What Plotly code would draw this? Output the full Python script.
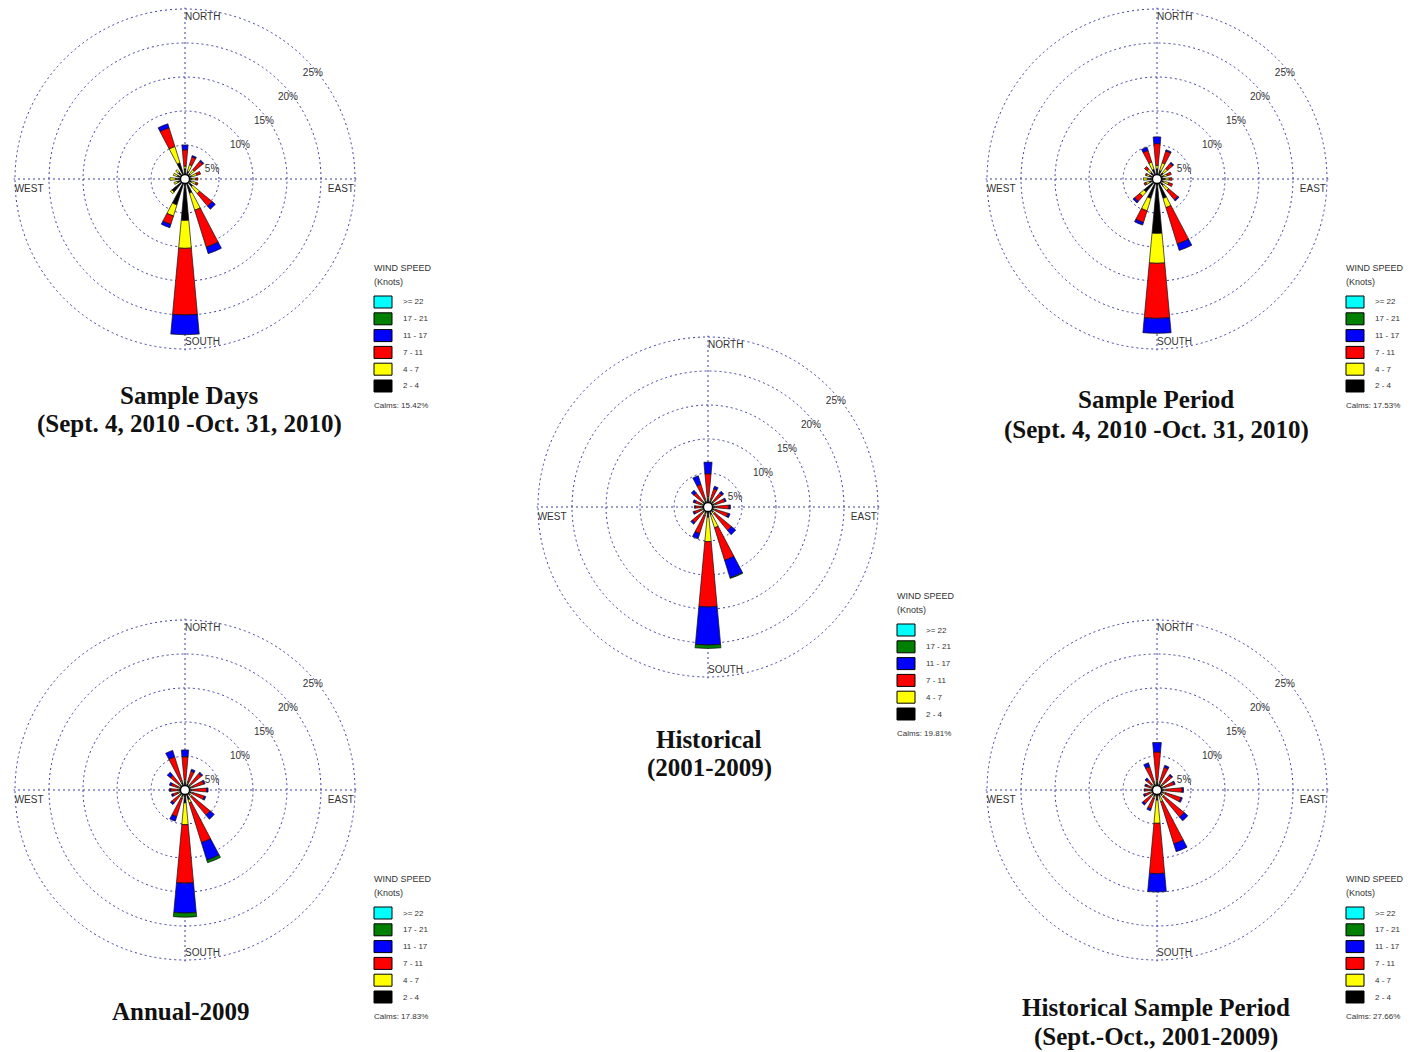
import plotly.graph_objects as go

# ---- data -------------------------------------------------------------
# Sixteen compass sectors, clockwise from north (degrees)
directions = [0.0, 22.5, 45.0, 67.5, 90.0, 112.5, 135.0, 157.5,
              180.0, 202.5, 225.0, 247.5, 270.0, 292.5, 315.0, 337.5]

speed_labels = ["2 - 4", "4 - 7", "7 - 11", "11 - 17", "17 - 21", ">= 22"]
speed_colors = ["#000000", "#ffff00", "#ff0000", "#0000ff", "#008000", "#00ffff"]

ring_values = [5, 10, 15, 20, 25]
ring_labels = ["5%", "10%", "15%", "20%", "25%"]

# Frequency (% of hours) by speed class, N..NNW
# Sample Days (Sept. 4, 2010 - Oct. 31, 2010)
sd_2_4   = [1.5, 1.2, 1.0, 1.0, 1.0, 1.0, 1.5, 2.2, 6.1, 4.0, 2.5, 1.2, 1.4, 1.2, 1.3, 2.5]
sd_4_7   = [0.4, 1.0, 0.8, 0.8, 0.6, 0.7, 1.3, 2.6, 4.1, 1.7, 0.3, 0.5, 0.8, 0.6, 0.5, 2.5]
sd_7_11  = [2.4, 1.2, 1.6, 0.6, 0.3, 0.3, 2.4, 5.7, 9.8, 1.3, 0.0, 0.0, 0.0, 0.0, 0.0, 2.9]
sd_11_17 = [0.7, 0.2, 0.2, 0.0, 0.0, 0.0, 0.6, 1.0, 2.9, 0.5, 0.0, 0.0, 0.0, 0.0, 0.0, 0.6]
sd_17_21 = [0.0, 0.0, 0.0, 0.0, 0.0, 0.0, 0.0, 0.0, 0.0, 0.0, 0.0, 0.0, 0.0, 0.0, 0.0, 0.0]
sd_22    = [0.0, 0.0, 0.0, 0.0, 0.0, 0.0, 0.0, 0.0, 0.0, 0.0, 0.0, 0.0, 0.0, 0.0, 0.0, 0.0]
sd_calms = "15.42%"

# Sample Period (Sept. 4, 2010 - Oct. 31, 2010)
sp_2_4   = [1.5, 1.3, 1.2, 1.0, 1.2, 1.0, 1.3, 3.0, 8.0, 3.0, 2.5, 1.2, 1.4, 1.2, 1.3, 1.5]
sp_4_7   = [0.5, 1.2, 0.8, 0.6, 0.6, 0.8, 0.9, 1.4, 4.4, 1.9, 0.8, 0.5, 0.6, 0.4, 0.6, 1.1]
sp_7_11  = [3.2, 1.8, 1.0, 0.6, 0.4, 0.6, 1.8, 5.6, 8.1, 1.8, 1.0, 0.3, 0.0, 0.2, 0.5, 1.8]
sp_11_17 = [1.0, 0.2, 0.2, 0.0, 0.0, 0.0, 0.2, 1.0, 2.2, 0.4, 0.3, 0.0, 0.0, 0.0, 0.0, 0.5]
sp_17_21 = [0.0, 0.0, 0.0, 0.0, 0.0, 0.0, 0.0, 0.0, 0.0, 0.0, 0.0, 0.0, 0.0, 0.0, 0.0, 0.0]
sp_22    = [0.0, 0.0, 0.0, 0.0, 0.0, 0.0, 0.0, 0.0, 0.0, 0.0, 0.0, 0.0, 0.0, 0.0, 0.0, 0.0]
sp_calms = "17.53%"

# Historical (2001-2009)
hi_2_4   = [1.3, 1.0, 1.0, 1.0, 1.0, 1.0, 1.0, 1.2, 1.5, 1.0, 1.0, 0.9, 0.9, 0.9, 1.0, 1.0]
hi_4_7   = [0.2, 0.2, 0.2, 0.2, 0.2, 0.2, 0.3, 2.0, 3.6, 0.3, 0.2, 0.2, 0.2, 0.2, 0.2, 0.2]
hi_7_11  = [3.4, 1.6, 1.5, 1.4, 1.9, 1.9, 3.2, 5.0, 9.6, 2.8, 1.8, 1.0, 0.8, 0.9, 1.5, 2.3]
hi_11_17 = [1.7, 0.4, 0.3, 0.2, 0.2, 0.3, 0.8, 2.7, 5.6, 0.8, 0.3, 0.2, 0.1, 0.3, 0.5, 1.3]
hi_17_21 = [0.0, 0.0, 0.0, 0.0, 0.0, 0.0, 0.0, 0.1, 0.5, 0.0, 0.0, 0.0, 0.0, 0.0, 0.0, 0.0]
hi_22    = [0.0, 0.0, 0.0, 0.0, 0.0, 0.0, 0.0, 0.0, 0.0, 0.0, 0.0, 0.0, 0.0, 0.0, 0.0, 0.0]
hi_calms = "19.81%"

# Annual-2009
an_2_4   = [1.3, 1.0, 1.0, 1.0, 1.0, 1.0, 1.0, 1.5, 1.9, 1.0, 1.0, 0.9, 0.9, 0.9, 1.0, 1.2]
an_4_7   = [0.2, 0.2, 0.2, 0.2, 0.2, 0.2, 0.3, 0.5, 3.2, 0.3, 0.2, 0.2, 0.2, 0.2, 0.2, 0.2]
an_7_11  = [3.4, 1.7, 2.0, 1.7, 2.0, 1.8, 3.5, 6.1, 8.6, 2.8, 1.3, 0.8, 1.0, 1.0, 1.6, 3.7]
an_11_17 = [1.0, 0.3, 0.2, 0.2, 0.2, 0.2, 0.8, 2.7, 4.4, 0.7, 0.3, 0.2, 0.2, 0.3, 0.6, 1.0]
an_17_21 = [0.0, 0.0, 0.0, 0.0, 0.0, 0.0, 0.0, 0.4, 0.6, 0.0, 0.0, 0.0, 0.0, 0.0, 0.0, 0.0]
an_22    = [0.0, 0.0, 0.0, 0.0, 0.0, 0.0, 0.0, 0.0, 0.0, 0.0, 0.0, 0.0, 0.0, 0.0, 0.0, 0.0]
an_calms = "17.83%"

# Historical Sample Period (Sept.-Oct., 2001-2009)
hs_2_4   = [1.3, 1.0, 1.0, 1.0, 1.0, 1.0, 1.0, 1.0, 1.5, 1.0, 1.0, 0.9, 0.9, 0.8, 0.9, 1.0]
hs_4_7   = [0.2, 0.2, 0.2, 0.2, 0.3, 0.3, 0.3, 0.8, 3.4, 0.3, 0.2, 0.2, 0.2, 0.2, 0.2, 0.2]
hs_7_11  = [4.1, 2.3, 1.6, 1.4, 2.4, 2.4, 3.9, 6.5, 7.4, 1.6, 1.4, 0.8, 0.7, 0.7, 0.9, 2.4]
hs_11_17 = [1.4, 0.3, 0.2, 0.2, 0.2, 0.2, 0.7, 1.2, 2.7, 0.3, 0.3, 0.2, 0.1, 0.2, 0.3, 0.6]
hs_17_21 = [0.0, 0.0, 0.0, 0.0, 0.0, 0.0, 0.0, 0.0, 0.0, 0.0, 0.0, 0.0, 0.0, 0.0, 0.0, 0.0]
hs_22    = [0.0, 0.0, 0.0, 0.0, 0.0, 0.0, 0.0, 0.0, 0.0, 0.0, 0.0, 0.0, 0.0, 0.0, 0.0, 0.0]
hs_calms = "27.66%"

# ---- layout constants ---------------------------------------------------
W, H = 1412, 1052
PX_PER_PCT = 6.8          # radial scale in pixels per percent
R_MAX = 25.2              # radial range upper limit (%)
GRID = "#3c3ca2"
LABEL_FONT = dict(family="Liberation Sans, Arial, sans-serif", size=10, color="#333333")
TITLE_FONT = dict(family="Liberation Serif, Times New Roman, serif", size=25, color="#111111")

roses = [
    dict(center=(185, 179), classes=[sd_2_4, sd_4_7, sd_7_11, sd_11_17, sd_17_21, sd_22],
         calms=sd_calms, title=[("Sample Days", 395), ("(Sept. 4, 2010 -Oct. 31, 2010)", 424)],
         title_x=189),
    dict(center=(1157, 179), classes=[sp_2_4, sp_4_7, sp_7_11, sp_11_17, sp_17_21, sp_22],
         calms=sp_calms, title=[("Sample Period", 400), ("(Sept. 4, 2010 -Oct. 31, 2010)", 430)],
         title_x=1156),
    dict(center=(708, 507), classes=[hi_2_4, hi_4_7, hi_7_11, hi_11_17, hi_17_21, hi_22],
         calms=hi_calms, title=[("Historical", 739), ("(2001-2009)", 768)],
         title_x=709),
    dict(center=(185, 790), classes=[an_2_4, an_4_7, an_7_11, an_11_17, an_17_21, an_22],
         calms=an_calms, title=[("Annual-2009", 1011)],
         title_x=181),
    dict(center=(1157, 790), classes=[hs_2_4, hs_4_7, hs_7_11, hs_11_17, hs_17_21, hs_22],
         calms=hs_calms, title=[("Historical Sample Period", 1007), ("(Sept.-Oct., 2001-2009)", 1037)],
         title_x=1156),
]

fig = go.Figure()
annotations = []
shapes = []

# ring label placement (r in %, compass angle in degrees)
ring_label_r = [4.2, 9.45, 14.35, 19.3, 24.4]
ring_label_theta = [71.6, 58.8, 54.0, 51.7, 50.4]

for i, rose in enumerate(roses):
    key = "polar" if i == 0 else f"polar{i + 1}"
    cx, cy = rose["center"]
    rad_px = R_MAX * PX_PER_PCT

    # stacked petals
    for vals, color, lab in zip(rose["classes"], speed_colors, speed_labels):
        fig.add_trace(go.Barpolar(
            r=vals, theta=directions, width=10.5, subplot=key, name=lab,
            marker=dict(color=color, line=dict(color="#111111", width=0.7)),
            showlegend=False, hoverinfo="skip"))

    # calms circle at the centre
    fig.add_trace(go.Scatterpolar(
        r=[0], theta=[0], mode="markers", subplot=key, showlegend=False,
        marker=dict(size=9, color="white", line=dict(color="black", width=1.3)),
        hoverinfo="skip"))

    # ring percentage labels
    fig.add_trace(go.Scatterpolar(
        r=ring_label_r, theta=ring_label_theta, text=ring_labels, mode="text",
        textfont=LABEL_FONT, subplot=key, showlegend=False, hoverinfo="skip",
        cliponaxis=False))

    # compass labels
    fig.add_trace(go.Scatterpolar(
        r=[23.8, 24.1], theta=[0, 180], text=["NORTH", "SOUTH"], mode="text",
        textposition="middle right", textfont=LABEL_FONT, subplot=key,
        showlegend=False, hoverinfo="skip", cliponaxis=False))
    fig.add_trace(go.Scatterpolar(
        r=[25.1], theta=[266.4], text=["WEST"], mode="text",
        textposition="middle right", textfont=LABEL_FONT, subplot=key,
        showlegend=False, hoverinfo="skip", cliponaxis=False))
    fig.add_trace(go.Scatterpolar(
        r=[24.9], theta=[93.6], text=["EAST"], mode="text",
        textposition="middle left", textfont=LABEL_FONT, subplot=key,
        showlegend=False, hoverinfo="skip", cliponaxis=False))

    fig.update_layout(**{key: dict(
        domain=dict(x=[(cx - rad_px) / W, (cx + rad_px) / W],
                    y=[1 - (cy + rad_px) / H, 1 - (cy - rad_px) / H]),
        bgcolor="rgba(0,0,0,0)",
        barmode="stack",
        radialaxis=dict(range=[0, R_MAX], tickvals=ring_values, showticklabels=False,
                        ticks="", showline=False, gridcolor=GRID, gridwidth=1.4,
                        griddash="2px,3px"),
        angularaxis=dict(direction="clockwise", rotation=90, tickvals=[0, 90, 180, 270],
                         showticklabels=False, ticks="", showline=False,
                         gridcolor=GRID, gridwidth=1.4, griddash="2px,3px"),
    )})

    # legend block
    lx, ly = cx + 187, cy + 89
    annotations.append(dict(x=lx / W, y=1 - ly / H, xref="paper", yref="paper",
                            text="WIND SPEED", showarrow=False, xanchor="left",
                            yanchor="middle", font=dict(LABEL_FONT, size=9)))
    annotations.append(dict(x=lx / W, y=1 - (ly + 14) / H, xref="paper", yref="paper",
                            text="(Knots)", showarrow=False, xanchor="left",
                            yanchor="middle", font=dict(LABEL_FONT, size=9)))
    for j, (lab, color) in enumerate(zip(speed_labels[::-1], speed_colors[::-1])):
        ry = ly + 34 + 16.8 * j
        shapes.append(dict(type="rect", xref="paper", yref="paper",
                           x0=(lx + 2) / W, x1=(lx + 20) / W,
                           y0=1 - (ry + 6) / H, y1=1 - (ry - 6) / H,
                           fillcolor=color, line=dict(color="black", width=1)))
        annotations.append(dict(x=(lx + 29) / W, y=1 - ry / H, xref="paper", yref="paper",
                                text=lab, showarrow=False, xanchor="left",
                                yanchor="middle", font=dict(LABEL_FONT, size=8)))
    annotations.append(dict(x=lx / W, y=1 - (ly + 137) / H, xref="paper", yref="paper",
                            text=f"Calms: {rose['calms']}", showarrow=False,
                            xanchor="left", yanchor="middle", font=dict(LABEL_FONT, size=8)))

    # title block
    for text, ty in rose["title"]:
        annotations.append(dict(x=rose["title_x"] / W, y=1 - ty / H, xref="paper",
                                yref="paper", text=f"<b>{text}</b>", showarrow=False,
                                xanchor="center", yanchor="middle", font=TITLE_FONT))

fig.update_layout(width=W, height=H, margin=dict(l=0, r=0, t=0, b=0),
                  paper_bgcolor="white", plot_bgcolor="white",
                  annotations=annotations, shapes=shapes, showlegend=False)

fig.write_html("out.html")
